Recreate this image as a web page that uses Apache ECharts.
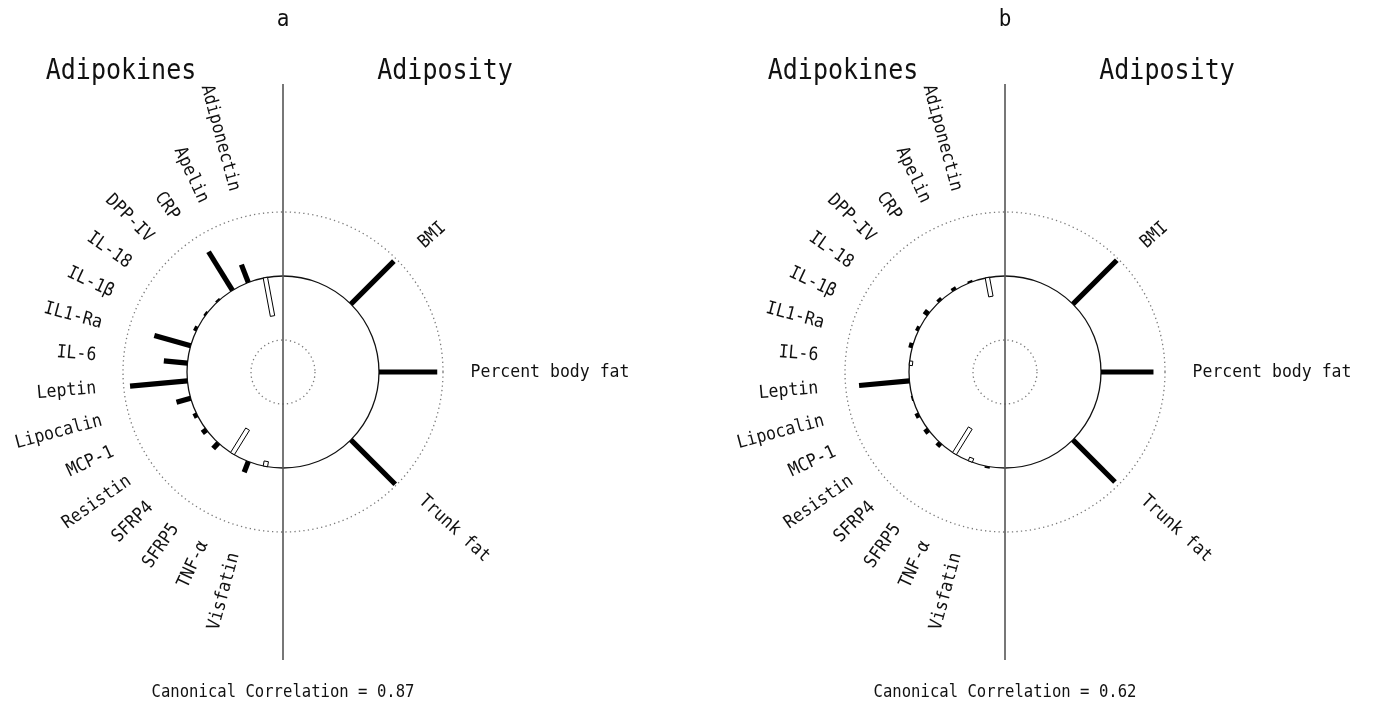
<!DOCTYPE html>
<html>
<head>
<meta charset="utf-8">
<script src="https://cdn.jsdelivr.net/npm/echarts@6/dist/echarts.min.js"></script>
<style>
html,body{margin:0;padding:0;background:#ffffff;}
#chart{width:1373px;height:709px;}
</style>
</head>
<body>
<div id="chart"></div>
<script>
// ---------------- data ----------------
const adipokines = ['Adiponectin','Apelin','CRP','DPP-IV','IL-18','IL-1β','IL1-Ra','IL-6','Leptin','Lipocalin','MCP-1','Resistin','SFRP4','SFRP5','TNF-α','Visfatin'];
const adiposity = ['BMI','Percent body fat','Trunk fat'];

// canonical loadings, panel a
const adipokineLoadingsA = [-0.61, 0.30, 0.71, 0.03, 0.03, 0.05, 0.59, 0.37, 0.90, 0.23, 0.06, 0.08, 0.12, -0.45, 0.18, -0.08];
const adiposityLoadingsA = [0.95, 0.91, 0.98];
// canonical loadings, panel b
const adipokineLoadingsB = [-0.30, 0.03, 0.05, 0.05, 0.08, 0.05, 0.06, -0.05, 0.79, 0.02, 0.06, 0.07, 0.07, -0.47, -0.06, 0.03];
const adiposityLoadingsB = [0.97, 0.82, 0.93];

const panelLetters = ['a', 'b'];
const canonicalCorrelations = ['0.87', '0.62'];
const ringLevels = [-1, 0, 1];
const sideTitles = ['Adipokines', 'Adiposity'];

// ---------------- layout ----------------
const FONT = '"DejaVu Sans Mono", "Liberation Mono", monospace';
const TEXT_SCALE_Y = 1.1;
const centers = [[283, 372], [1005, 372]];
const R_MIN = -1.5, R_MAX = 1;
const LABEL_R = 1.43;     // label anchor, in loading units
const LINE_REACH = 3.0;   // vertical divider reach, in loading units
const SQUEEZE = 0.944;    // label angles are slightly compressed toward the horizontal

function halfAngles(n) { return Array.from({length: n}, (_, i) => (i + 1) * 180 / (n + 1)); }
const leftAngles = halfAngles(adipokines.length);
const rightAngles = halfAngles(adiposity.length);
const squeeze = a => 90 + (a - 90) * SQUEEZE;

function barData(leftVals, rightVals) {
  const d = [];
  leftVals.forEach((v, i) => d.push([v, 360 - leftAngles[i]]));
  rightVals.forEach((v, i) => d.push([v, rightAngles[i]]));
  return d;
}
const labelNames = adipokines.concat(adiposity);
const labelData = adipokines.map((n, i) => [LABEL_R, 360 - squeeze(leftAngles[i])])
  .concat(adiposity.map((n, i) => [LABEL_R, squeeze(rightAngles[i])]));

function renderRing(params, api) {
  const v = api.value(0);
  const o = api.coord([R_MIN, 0]);
  const p = api.coord([v, 0]);
  const r = Math.hypot(p[0] - o[0], p[1] - o[1]);
  const solid = v === 0;
  return {
    type: 'circle',
    shape: {cx: o[0], cy: o[1], r: r},
    style: solid ? {fill: 'none', stroke: '#111', lineWidth: 1.3}
                 : {fill: 'none', stroke: '#7a7a7a', lineWidth: 1.3, lineDash: [1.3, 3.2]}
  };
}
function renderDivider(params, api) {
  const a = api.coord([LINE_REACH, 0]);
  const b = api.coord([LINE_REACH, 180]);
  return {type: 'line', shape: {x1: a[0], y1: a[1], x2: b[0], y2: b[1]},
          style: {stroke: '#555', lineWidth: 1.6}};
}
function renderBar(params, api) {
  const c = api.value(0), phi = api.value(1);
  const o = api.coord([R_MIN, phi]);
  const far = api.coord([1, phi]);
  const p0 = api.coord([0, phi]);
  const p1 = api.coord([c, phi]);
  let ux = far[0] - o[0], uy = far[1] - o[1];
  const L = Math.hypot(ux, uy); ux /= L; uy /= L;
  const nx = -uy, ny = ux;
  const hw = c >= 0 ? 2.6 : 2.2;
  const pts = [
    [p0[0] + nx * hw, p0[1] + ny * hw], [p1[0] + nx * hw, p1[1] + ny * hw],
    [p1[0] - nx * hw, p1[1] - ny * hw], [p0[0] - nx * hw, p0[1] - ny * hw]
  ];
  return {type: 'polygon', shape: {points: pts},
          style: c >= 0 ? {fill: '#000'} : {fill: '#fff', stroke: '#000', lineWidth: 1}};
}
function renderLabel(params, api) {
  const phi = api.value(1);
  const p = api.coord([api.value(0), phi]);
  let rotation, align;
  if (phi > 180) {
    const th = (360 - phi) * Math.PI / 180;
    rotation = -Math.atan2(Math.cos(th), Math.sin(th));
    align = 'right';
  } else {
    const th = phi * Math.PI / 180;
    rotation = Math.atan2(Math.cos(th), Math.sin(th));
    align = 'left';
  }
  return {type: 'text', x: p[0], y: p[1], rotation: rotation, scaleY: TEXT_SCALE_Y,
          style: {text: labelNames[params.dataIndex], font: '16.5px ' + FONT, fill: '#111',
                  align: align, textAlign: align, verticalAlign: 'middle', textVerticalAlign: 'middle'}};
}

const panels = [
  {left: adipokineLoadingsA, right: adiposityLoadingsA},
  {left: adipokineLoadingsB, right: adiposityLoadingsB}
];

function headText(x, y, text, size) {
  return {type: 'text', x: x, y: y, scaleY: TEXT_SCALE_Y, silent: true,
    style: {text: text, font: size + 'px ' + FONT, fill: '#111', align: 'center', textAlign: 'center',
            verticalAlign: 'middle', textVerticalAlign: 'middle'}};
}

const polar = [], angleAxis = [], radiusAxis = [], series = [], graphic = [];
panels.forEach((pn, k) => {
  polar.push({center: centers[k], radius: 160});
  angleAxis.push({polarIndex: k, type: 'value', min: 0, max: 360, startAngle: 90, clockwise: true, show: false});
  radiusAxis.push({polarIndex: k, type: 'value', min: R_MIN, max: R_MAX, show: false});
  series.push({type: 'custom', coordinateSystem: 'polar', polarIndex: k, clip: false, silent: true,
               renderItem: renderRing, data: ringLevels.map(v => [v, 0])});
  series.push({type: 'custom', coordinateSystem: 'polar', polarIndex: k, clip: false, silent: true,
               renderItem: renderDivider, data: [[LINE_REACH, 0]]});
  series.push({type: 'custom', coordinateSystem: 'polar', polarIndex: k, clip: false, silent: true,
               renderItem: renderBar, data: barData(pn.left, pn.right)});
  series.push({type: 'custom', coordinateSystem: 'polar', polarIndex: k, clip: false, silent: true,
               renderItem: renderLabel, data: labelData});
  const cx = centers[k][0];
  graphic.push(headText(cx, 20, panelLetters[k], 21));
  graphic.push(headText(cx - 162, 72, sideTitles[0], 25));
  graphic.push(headText(cx + 162, 72, sideTitles[1], 25));
  graphic.push(headText(cx, 693, 'Canonical Correlation = ' + canonicalCorrelations[k], 15.6));
});

const chart = echarts.init(document.getElementById('chart'), null, {renderer: 'canvas'});
chart.setOption({
  animation: false,
  backgroundColor: '#ffffff',
  polar: polar,
  angleAxis: angleAxis,
  radiusAxis: radiusAxis,
  series: series,
  graphic: graphic
});
</script>
</body>
</html>
